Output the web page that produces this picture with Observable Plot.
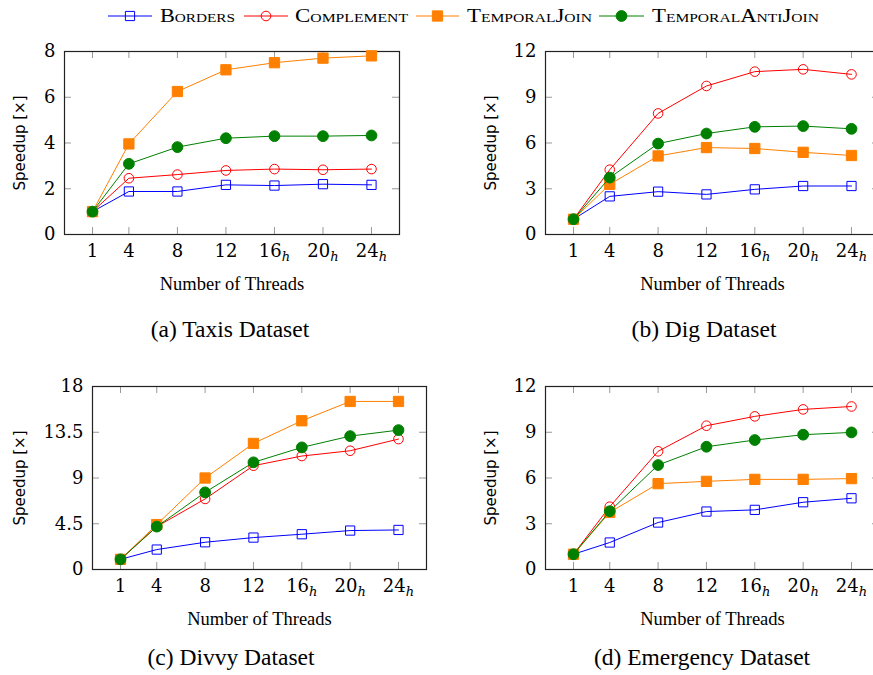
<!DOCTYPE html>
<html><head><meta charset="utf-8">
<script src="https://cdn.jsdelivr.net/npm/d3@7"></script>
<script src="https://cdn.jsdelivr.net/npm/@observablehq/plot@0.6"></script>
<style>
html,body{margin:0;padding:0;background:#fff;overflow:hidden;color:#000}
#root{position:relative;width:873px;height:675px;overflow:hidden;background:#fff}
.panel{position:absolute;height:264px}
.panel svg{max-width:none !important;display:block}
.caption{position:absolute;font-family:"Liberation Serif","Times New Roman",serif;font-size:23.5px;line-height:1;transform:translateX(-50%);white-space:nowrap;color:#000}
#legend{position:absolute;left:0;top:0}
</style></head><body><div id="root"></div>
<script>
// ---- data ----
const threads = [1, 4, 8, 12, 16, 20, 24];
const hyperThreads = [16, 20, 24];           // labels carrying subscript h
const seriesNames = ["Borders", "Complement", "TemporalJoin", "TemporalAntiJoin"];
const seriesColors = ["#0000ff", "#ff0000", "#ff8000", "#008000"];

const taxisBorders          = [1, 1.88, 1.88, 2.17, 2.14, 2.20, 2.17];
const taxisComplement       = [1, 2.46, 2.62, 2.80, 2.86, 2.83, 2.86];
const taxisTemporalJoin     = [1, 3.96, 6.25, 7.20, 7.51, 7.71, 7.81];
const taxisTemporalAntiJoin = [1, 3.09, 3.82, 4.21, 4.30, 4.30, 4.33];
const taxisYTicks = [0, 2, 4, 6, 8];

const digBorders          = [1, 2.50, 2.81, 2.63, 2.96, 3.18, 3.18];
const digComplement       = [1, 4.25, 7.94, 9.74, 10.68, 10.83, 10.50];
const digTemporalJoin     = [1, 3.29, 5.15, 5.70, 5.64, 5.39, 5.18];
const digTemporalAntiJoin = [1, 3.73, 5.96, 6.62, 7.06, 7.11, 6.93];
const digYTicks = [0, 3, 6, 9, 12];

const divvyBorders          = [1, 1.96, 2.68, 3.14, 3.47, 3.83, 3.89];
const divvyComplement       = [1, 4.22, 6.94, 10.21, 11.16, 11.68, 12.83];
const divvyTemporalJoin     = [1, 4.42, 9.00, 12.40, 14.63, 16.53, 16.53];
const divvyTemporalAntiJoin = [1, 4.22, 7.59, 10.54, 12.01, 13.12, 13.71];
const divvyYTicks = [0, 4.5, 9, 13.5, 18];

const emergencyBorders          = [1, 1.77, 3.08, 3.80, 3.91, 4.41, 4.67];
const emergencyComplement       = [1, 4.12, 7.75, 9.43, 10.04, 10.50, 10.69];
const emergencyTemporalJoin     = [1, 3.75, 5.63, 5.78, 5.91, 5.91, 5.96];
const emergencyTemporalAntiJoin = [1, 3.82, 6.85, 8.05, 8.49, 8.84, 8.99];
const emergencyYTicks = [0, 3, 6, 9, 12];

const xLabel = "Number of Threads";
const yLabel = "Speedup [×]";

// ---- layout ----
const panels = [
  {caption: "(a) Taxis Dataset", series: [taxisBorders, taxisComplement, taxisTemporalJoin, taxisTemporalAntiJoin], yTicks: taxisYTicks,
   left: 0, top: 36, width: 436, ml: 64, mr: 37, yDx: -44, capX: 230, capTop: 318},
  {caption: "(b) Dig Dataset", series: [digBorders, digComplement, digTemporalJoin, digTemporalAntiJoin], yTicks: digYTicks,
   left: 440, top: 36, width: 450, ml: 105, mr: 11, yDx: -54, capX: 704, capTop: 318},
  {caption: "(c) Divvy Dataset", series: [divvyBorders, divvyComplement, divvyTemporalJoin, divvyTemporalAntiJoin], yTicks: divvyYTicks,
   left: 0, top: 371, width: 436, ml: 92, mr: 10, yDx: -72, capX: 231, capTop: 646},
  {caption: "(d) Emergency Dataset", series: [emergencyBorders, emergencyComplement, emergencyTemporalJoin, emergencyTemporalAntiJoin], yTicks: emergencyYTicks,
   left: 440, top: 371, width: 450, ml: 105, mr: 11, yDx: -54, capX: 702, capTop: 646}
];

const markerStyles = [
  {symbol: "square", r: 5.2, fill: "none", strokeWidth: 1},
  {symbol: "circle", r: 4.8, fill: "none", strokeWidth: 1},
  {symbol: "square", r: 5.8, fill: "fill", strokeWidth: 1},
  {symbol: "circle", r: 5.4, fill: "fill", strokeWidth: 1}
];

const root = document.getElementById("root");
const H = 264, MT = 15, MB = 66, TICK = 7;
const serifTicks = "DejaVu Serif, serif";
const serifText = "Liberation Serif, Times New Roman, serif";

function makePanel(p) {
  const frameH = H - MT - MB;
  const frameW = p.width - p.ml - p.mr;
  const yMax = p.yTicks[p.yTicks.length - 1];
  const marks = [
    Plot.tickX(threads, {x: d => d, stroke: "#999", strokeWidth: 1, insetTop: frameH - TICK}),
    Plot.tickX(threads, {x: d => d, stroke: "#999", strokeWidth: 1, insetBottom: frameH - TICK}),
    Plot.tickY(p.yTicks, {y: d => d, stroke: "#999", strokeWidth: 1, insetRight: frameW - TICK}),
    Plot.tickY(p.yTicks, {y: d => d, stroke: "#999", strokeWidth: 1, insetLeft: frameW - TICK}),
    Plot.frame({stroke: "#222", strokeWidth: 1.2}),
    Plot.axisX(threads, {tickSize: 0, tickPadding: 10, fontSize: 18, fontFamily: serifTicks, label: null, tickFormat: d => String(d)}),
    Plot.axisY(p.yTicks, {tickSize: 0, tickPadding: 9, fontSize: 18, fontFamily: serifTicks, label: null, tickFormat: d => String(d)}),
    Plot.text([xLabel], {text: d => d, frameAnchor: "bottom", dy: 50, textAnchor: "middle", lineAnchor: "middle", fontFamily: serifText, fontSize: 18.5}),
    Plot.text([yLabel], {text: d => d, frameAnchor: "left", dx: p.yDx, rotate: -90, textAnchor: "middle", lineAnchor: "middle", fontFamily: "DejaVu Sans, sans-serif", fontSize: 15})
  ];
  p.series.forEach((vals, si) => {
    const data = threads.map((t, i) => ({t, v: vals[i]}));
    const c = seriesColors[si];
    const m = markerStyles[si];
    marks.push(Plot.line(data, {x: "t", y: "v", stroke: c, strokeWidth: 1}));
    marks.push(Plot.dot(data, {x: "t", y: "v", symbol: m.symbol, r: m.r, stroke: c,
      fill: m.fill === "fill" ? c : "none", strokeWidth: m.strokeWidth}));
  });
  const svg = Plot.plot({
    width: p.width, height: H,
    marginLeft: p.ml, marginRight: p.mr, marginTop: MT, marginBottom: MB,
    style: {background: "transparent", color: "#000", overflow: "visible", maxWidth: "none"},
    x: {domain: [1, 24], inset: 28},
    y: {domain: [0, yMax]},
    marks
  });
  // subscript h on hyper-threaded counts
  svg.querySelectorAll('g[aria-label="x-axis tick label"] text').forEach(t => {
    const v = +t.textContent;
    if (hyperThreads.includes(v)) {
      t.textContent = String(v);
      const ts = document.createElementNS("http://www.w3.org/2000/svg", "tspan");
      ts.setAttribute("dy", "4");
      ts.setAttribute("font-size", "13");
      ts.setAttribute("font-style", "italic");
      ts.textContent = "h";
      t.appendChild(ts);
    }
  });
  const div = document.createElement("div");
  div.className = "panel";
  div.style.left = p.left + "px";
  div.style.top = p.top + "px";
  div.style.width = p.width + "px";
  div.appendChild(svg);
  root.appendChild(div);
  const cap = document.createElement("div");
  cap.className = "caption";
  cap.style.left = p.capX + "px";
  cap.style.top = p.capTop + "px";
  cap.textContent = p.caption;
  root.appendChild(cap);
}
panels.forEach(makePanel);

// ---- legend ----
const legendItems = [
  {x1: 108, x2: 152, tx: 160, tw: 75},
  {x1: 244, x2: 288, tx: 295, tw: 113},
  {x1: 416, x2: 459, tx: 467, tw: 125},
  {x1: 599, x2: 644, tx: 652, tw: 167}
];
const lsvg = d3.create("svg").attr("id", "legend").attr("width", 873).attr("height", 34);
const LY = 16;
legendItems.forEach((it, i) => {
  const c = seriesColors[i], m = markerStyles[i];
  const g = lsvg.append("g");
  g.append("line").attr("x1", it.x1).attr("x2", it.x2).attr("y1", LY).attr("y2", LY).attr("stroke", c).attr("stroke-width", 1);
  const cx = (it.x1 + it.x2) / 2;
  const sym = d3.symbol(m.symbol === "square" ? d3.symbolSquare : d3.symbolCircle, m.r * m.r * Math.PI);
  g.append("path").attr("d", sym()).attr("transform", `translate(${cx},${LY})`)
    .attr("fill", m.fill === "fill" ? c : "none").attr("stroke", c).attr("stroke-width", 1);
  g.append("text").attr("x", it.tx).attr("y", LY + 6).text(seriesNames[i])
    .attr("font-family", serifText).attr("font-size", 19)
    .style("font-variant", "small-caps")
    .attr("textLength", it.tw).attr("lengthAdjust", "spacingAndGlyphs");
});
root.appendChild(lsvg.node());
</script>
</body></html>
